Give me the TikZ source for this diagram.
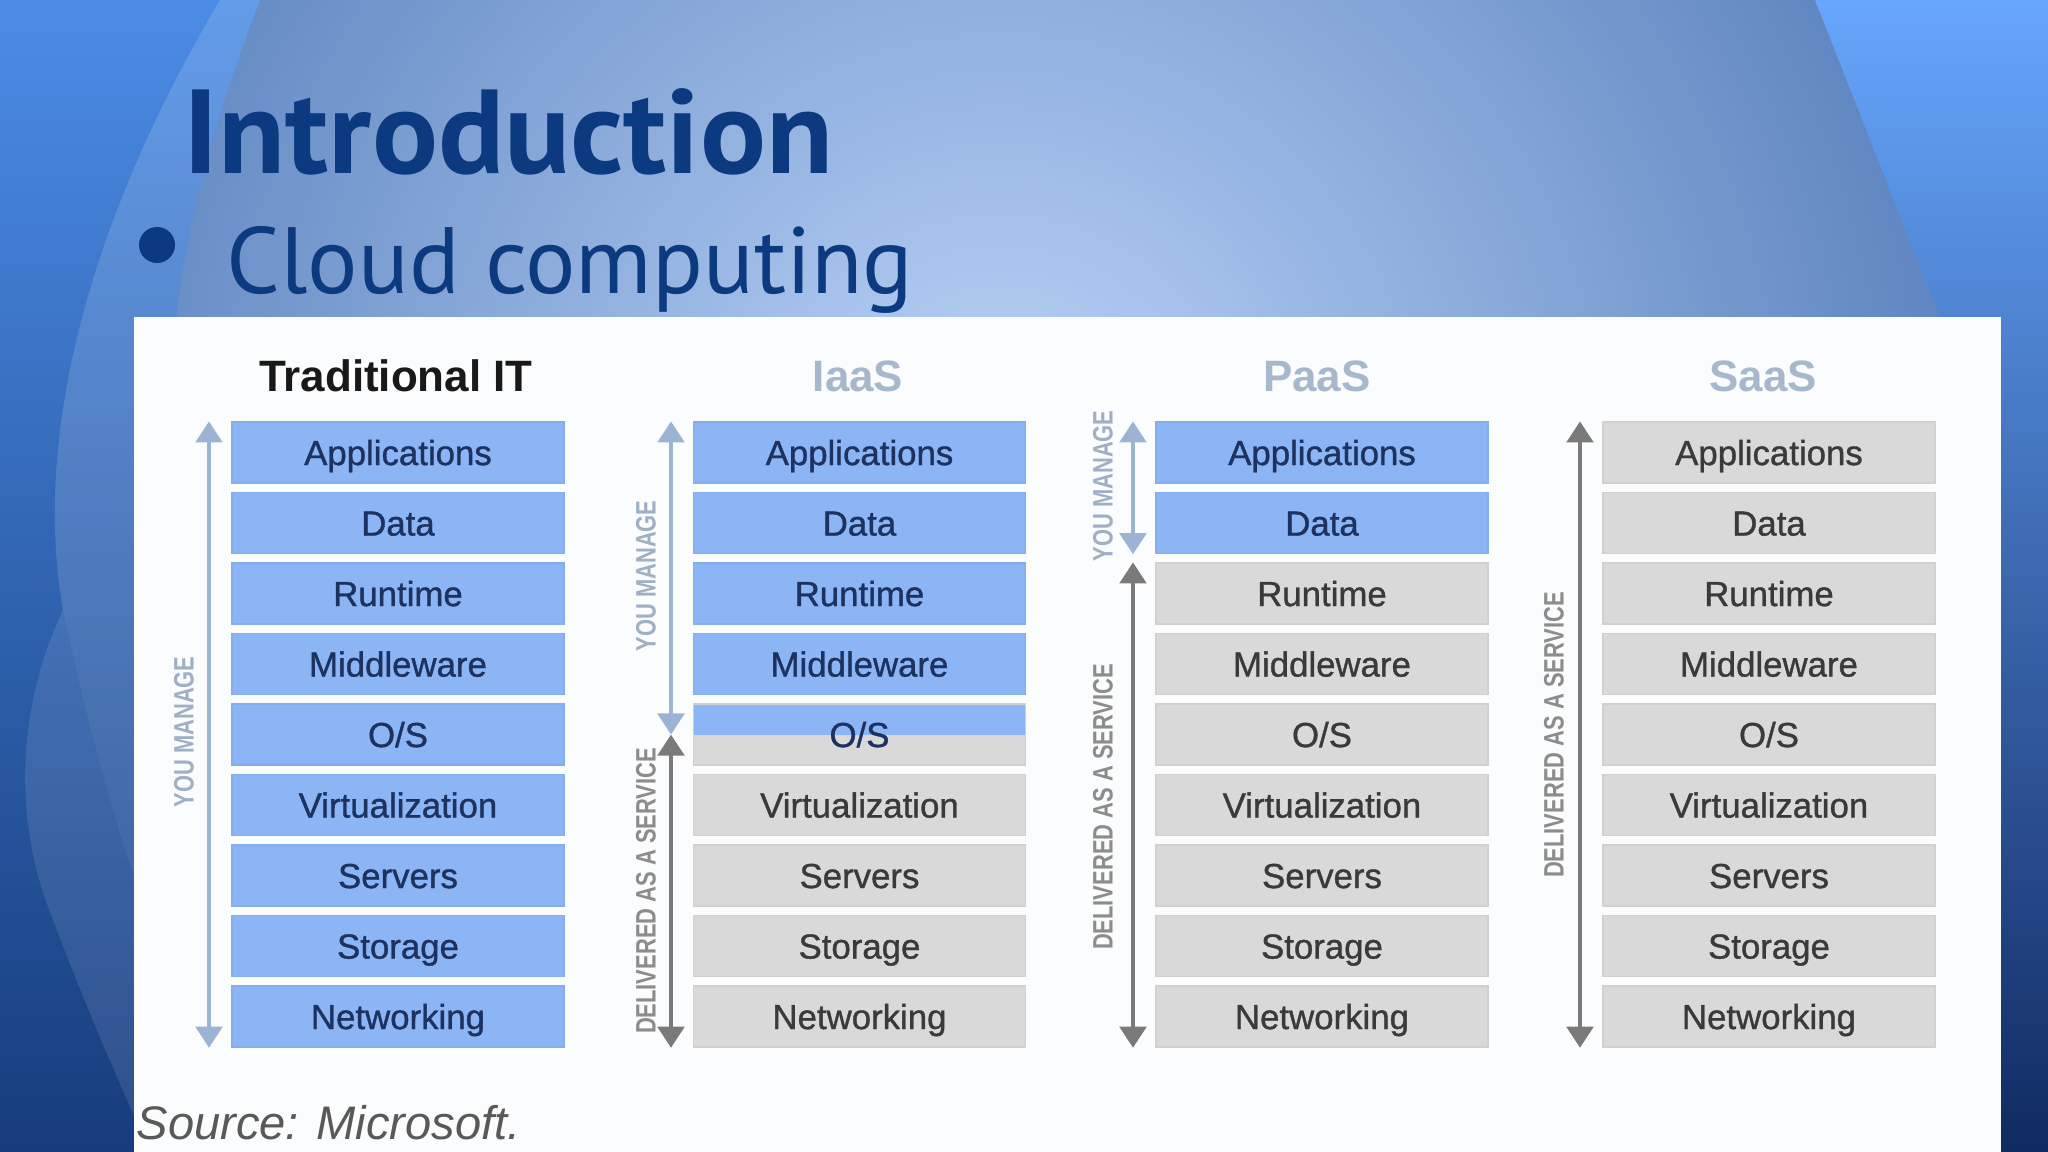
\documentclass[tikz,border=0pt]{standalone}
\usepackage{fontspec}
\setmainfont{PT Sans}
\newfontfamily\titlefont[FakeStretch=1.03]{PT Sans}
\newfontfamily\arialfont{Liberation Sans}
\newfontfamily\boxfont[FakeBold=1.0]{Liberation Sans}
\newfontfamily\narrowfont[FakeStretch=0.78]{Liberation Sans}
\usetikzlibrary{arrows.meta}

\definecolor{titleblue}{HTML}{0B3A80}
\definecolor{bglight}{HTML}{BCD4F8}
\definecolor{bgdark}{HTML}{5A82BE}
\definecolor{rtop}{HTML}{66A6FC}
\definecolor{rmid}{HTML}{4E88DC}
\definecolor{rbot}{HTML}{102A62}
\definecolor{ltop}{HTML}{4B8CE6}
\definecolor{lmid}{HTML}{24569E}
\definecolor{lbot}{HTML}{163C7C}
\definecolor{panelwhite}{HTML}{FBFCFD}
\definecolor{boxblue}{HTML}{8BB5F4}
\definecolor{boxblueedge}{HTML}{84ADEA}
\definecolor{boxgray}{HTML}{D9D9D9}
\definecolor{boxgrayedge}{HTML}{D0D0D0}
\definecolor{textnavy}{HTML}{1C3260}
\definecolor{textgray}{HTML}{3A3A3A}
\definecolor{managecol}{HTML}{9CB4D4}
\definecolor{managetext}{HTML}{9FAFC4}
\definecolor{servicecol}{HTML}{7A7A7A}
\definecolor{servicetext}{HTML}{8C8C8C}
\definecolor{headcol}{HTML}{A8B8CC}

\begin{document}
\begin{tikzpicture}[
    >={Triangle[width=7.5pt,length=6pt]},
    layer/.style={minimum width=3.32cm, minimum height=0.61cm, inner sep=0pt,
      line width=0.4pt, font=\boxfont\fontsize{9.9}{12}\selectfont,
      text height=7.1pt, text depth=0pt},
    mine/.style={layer, fill=boxblue, draw=boxblueedge, text=textnavy},
    theirs/.style={layer, fill=boxgray, draw=boxgrayedge, text=textgray},
    split/.style={theirs, text=textnavy, path picture={
        \fill[boxblue] (path picture bounding box.west)
          rectangle (path picture bounding box.north east);}},
    head/.style={inner sep=0pt, font=\arialfont\bfseries\fontsize{12.5}{14}\selectfont},
    tag/.style={rotate=90, inner sep=0pt,
      font=\narrowfont\bfseries\fontsize{8}{9}\selectfont},
    manage/.style={<->, line width=1.2pt, draw=managecol},
    service/.style={<->, line width=1.2pt, draw=servicecol},
  ]
    \useasboundingbox (0,0) rectangle (20.48,11.52);
    \begin{scope}
      \clip (0,0) rectangle (20.48,11.52);
      \shade[inner color=bglight, outer color=bgdark] (10,7) circle (10);
      \shade[top color=rtop, middle color=rmid, bottom color=rbot]
        (18.15,11.52) -- (19.4,8.35) -- (19.9,0) -- (20.48,0) -- (20.48,11.52) -- cycle;
    \end{scope}
    \begin{scope}
      \clip (0,11.52) -- (2.6,11.52) .. controls (2.1,10.2) and (1.75,9) .. (1.7,7.5)
        -- (1.7,0) -- (0,0) -- cycle;
      \shade[top color=ltop, middle color=lmid, bottom color=lbot] (0,0) rectangle (2.6,11.52);
      \fill[white, opacity=0.14]
        (2.2,11.52) .. controls (1.0,9.5) and (0.3,7.3) .. (0.63,5.42)
        .. controls (0.9,4.2) and (1.2,3.0) .. (1.7,1.8) -- (2.6,1.8) -- (2.6,11.52) -- cycle;
      \fill[white, opacity=0.10]
        (0.63,5.42) .. controls (0.15,4.4) and (0.15,3.3) .. (0.5,2.4)
        .. controls (0.8,1.6) and (1.1,0.9) .. (1.5,0) -- (2.6,0) -- (2.6,1.8) -- (1.7,1.8)
        .. controls (1.2,3.0) and (0.9,4.2) .. (0.63,5.42) -- cycle;
    \end{scope}
    \fill[panelwhite] (1.34,0) rectangle (20.01,8.35);

    \node[anchor=base west, inner sep=0pt, text=titleblue,
      font=\titlefont\bfseries\fontsize{34}{40}\selectfont] (title) at (1.83,9.78) {Introduction};
    \node[circle, fill=titleblue, minimum size=0.36cm, inner sep=0pt] (dot) at (1.57,9.07) {};
    \node[anchor=base west, inner sep=0pt, text=titleblue,
      font=\fontsize{26.8}{32}\selectfont] (topic) at (2.26,8.58) {Cloud computing};

    \node[head, text=black!90] (thead) at (3.96,7.76) {Traditional IT};
    \node[head, text=headcol] (ihead) at (8.58,7.76) {IaaS};
    \node[head, text=headcol] (phead) at (13.17,7.76) {PaaS};
    \node[head, text=headcol] (shead) at (17.63,7.76) {SaaS};

    \foreach \name [count=\k] in {Applications,Data,Runtime,Middleware,O/S,
        Virtualization,Servers,Storage,Networking} {
      \pgfmathsetmacro\yy{7.699-0.705*\k}
      \node[mine] (t\k) at (3.98,\yy) {\name};
      \ifnum\k<5 \node[mine] (i\k) at (8.595,\yy) {\name}; \fi
      \ifnum\k=5 \node[split] (i\k) at (8.595,\yy) {\name}; \fi
      \ifnum\k>5 \node[theirs] (i\k) at (8.595,\yy) {\name}; \fi
      \ifnum\k<3 \node[mine] (p\k) at (13.22,\yy) {\name}; \fi
      \ifnum\k>2 \node[theirs] (p\k) at (13.22,\yy) {\name}; \fi
      \node[theirs] (s\k) at (17.69,\yy) {\name};
    }

    \coordinate (tx) at (2.09,0);
    \coordinate (ix) at (6.71,0);
    \coordinate (px) at (11.33,0);
    \coordinate (sx) at (15.8,0);
    \draw[manage] (t1.north -| tx) -- (t9.south -| tx);
    \draw[manage] (i1.north -| ix) -- (i5.center -| ix);
    \draw[service] (i5.center -| ix) -- (i9.south -| ix);
    \draw[manage] (p1.north -| px) -- (p2.south -| px);
    \draw[service] (p3.north -| px) -- (p9.south -| px);
    \draw[service] (s1.north -| sx) -- (s9.south -| sx);

    \node[tag, text=managetext] (tyou) at (1.84,4.2) {YOU MANAGE};
    \node[tag, text=managetext] (iyou) at (6.46,5.76) {YOU MANAGE};
    \node[tag, text=servicetext] (idel) at (6.46,2.61) {DELIVERED AS A SERVICE};
    \node[tag, text=managetext] (pyou) at (11.03,6.66) {YOU MANAGE};
    \node[tag, text=servicetext] (pdel) at (11.03,3.45) {DELIVERED AS A SERVICE};
    \node[tag, text=servicetext] (sdel) at (15.54,4.17) {DELIVERED AS A SERVICE};

    \node[anchor=base west, inner sep=0pt, text=black!65,
      font=\arialfont\itshape\fontsize{13.4}{15}\selectfont] (source) at (1.36,0.12) {Source: Microsoft.};
  \end{tikzpicture}
\end{document}
